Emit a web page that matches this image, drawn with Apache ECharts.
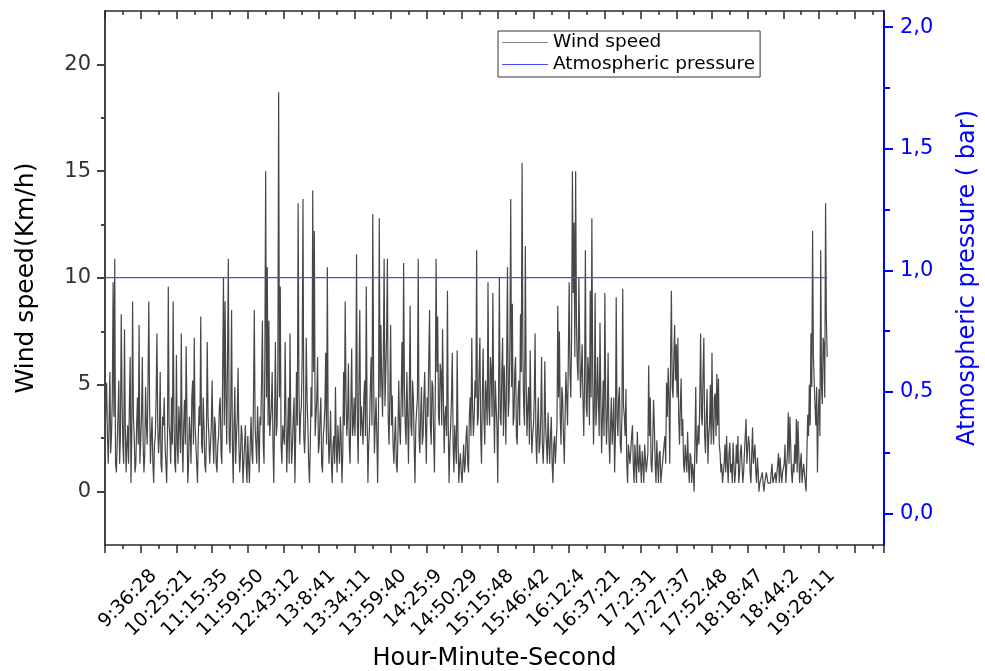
<!DOCTYPE html>
<html>
<head>
<meta charset="utf-8">
<script src="https://cdn.jsdelivr.net/npm/echarts@6.0.0/dist/echarts.min.js"></script>
<style>
html,body{margin:0;padding:0;background:#fff;}
#chart{width:985px;height:671px;}
</style>
</head>
<body>
<div id="chart"></div>
<script>
// x tick labels (one per major tick, starting at the second major tick)
const timeLabels = ['9:36:28','10:25:21','11:15:35','11:59:50','12:43:12','13:8:41','13:34:11','13:59:40','14:25:9','14:50:29',
  '15:15:48','15:46:42','16:12:4','16:37:21','17:2:31','17:27:37','17:52:48','18:18:47','18:44:2','19:28:11'];
const samplesPerTick = 44;   // samples between two major x ticks
const xMaxSample = 960;
const labelShift = 16;       // labels sit a little right of their tick, as in the original

// wind speed (Km/h), one row per major x interval
const windSpeed = [
  2.2,4.0,5.1,2.6,1.3,3.1,5.6,1.8,2.6,4.4,9.8,3.5,10.9,1.3,0.9,2.2,3.5,5.2,1.3,2.6,8.3,4.4,2.2,1.3,7.6,3.1,0.9,2.2,3.1,1.3,4.0,6.3,0.4,2.6,8.9,3.5,2.6,0.9,1.3,3.1,4.4,2.2,7.8,1.3,
  1.3,3.5,6.3,2.2,0.9,1.8,4.9,3.1,2.2,5.2,8.9,4.0,1.3,2.6,3.5,1.3,0.4,2.2,2.6,4.4,7.4,3.1,1.8,2.6,5.6,1.3,0.9,3.5,3.1,4.4,2.2,1.3,0.4,2.6,9.6,3.1,2.6,1.3,4.4,2.2,8.9,3.5,1.3,0.9,
  6.4,2.2,1.3,4.0,3.1,1.8,7.4,2.6,0.9,3.1,4.3,2.2,6.8,3.5,0.4,1.3,3.5,2.6,1.3,4.4,5.2,2.2,7.2,3.1,2.2,1.3,0.4,2.6,4.0,3.1,8.2,2.2,1.8,4.4,3.1,1.3,0.9,2.6,7.0,3.5,2.6,1.3,1.3,3.1,
  5.2,2.6,1.3,3.5,3.1,1.3,0.9,2.2,2.6,4.0,4.4,1.8,1.3,5.6,10.0,3.1,8.9,4.4,2.2,6.3,10.9,2.6,1.8,4.0,8.5,2.2,0.4,3.1,4.9,1.3,2.6,3.5,5.8,2.2,0.9,1.8,3.1,2.6,0.4,1.3,2.2,3.1,1.3,0.4,
  2.6,1.3,0.4,2.2,3.5,1.8,1.3,4.4,8.5,3.1,2.2,1.3,4.0,2.6,0.9,3.5,3.1,5.2,8.0,2.2,1.3,6.3,15.0,4.4,10.5,3.1,8.0,2.6,2.6,4.0,5.6,2.2,0.4,3.5,7.0,2.6,3.1,5.6,18.7,4.4,9.6,2.2,1.3,3.1,
  3.1,2.2,7.0,3.5,0.9,2.6,4.4,1.3,7.4,3.1,1.3,2.2,3.5,4.4,0.4,2.6,5.6,3.1,13.5,4.9,2.2,3.5,4.0,6.3,13.7,2.6,1.8,3.1,7.2,4.4,3.1,1.3,0.4,2.2,4.9,3.5,14.1,5.6,12.2,2.6,2.6,4.4,6.3,1.8,
  2.2,3.5,4.4,1.3,0.9,2.6,3.1,4.0,6.5,2.2,10.5,3.1,1.3,2.2,3.8,1.3,0.4,2.2,2.6,1.3,4.9,2.2,0.9,3.1,2.2,1.3,3.5,2.6,0.4,1.8,5.6,3.1,8.9,4.4,2.6,3.5,6.0,2.2,1.3,4.0,6.7,2.6,3.1,4.4,
  2.6,4.4,11.1,3.1,1.3,5.2,8.5,2.6,4.0,3.1,2.2,4.4,5.2,2.6,9.6,3.5,0.4,2.2,3.1,4.9,6.3,3.1,13.0,5.6,1.8,3.1,4.4,2.6,0.4,3.5,12.8,4.4,7.8,5.2,3.5,6.3,10.9,4.0,5.6,7.2,10.9,3.5,2.2,4.4,
  7.8,3.1,4.5,2.2,1.3,2.6,3.5,1.3,0.9,2.6,5.2,3.1,2.2,4.4,7.0,3.5,10.7,4.9,3.1,2.2,5.6,3.5,1.3,4.4,8.7,3.1,2.6,5.2,4.4,2.2,0.4,3.1,3.1,4.4,10.9,2.6,1.8,3.5,4.9,2.2,2.6,4.4,5.6,3.1,
  1.3,4.4,3.5,6.3,8.5,3.1,2.2,5.2,4.9,2.6,0.9,4.4,10.9,5.6,8.2,3.5,3.1,6.0,5.6,3.1,7.6,4.4,1.8,3.5,4.0,2.6,9.4,3.1,0.4,2.2,3.1,4.4,6.5,2.2,0.9,3.1,2.2,1.3,6.6,2.6,0.4,1.3,1.8,0.9,
  0.4,1.3,2.2,0.9,1.3,2.6,3.1,1.3,0.9,3.5,4.4,2.6,7.2,4.0,2.6,3.5,5.2,4.4,11.3,3.1,3.5,5.6,7.2,2.6,1.3,4.4,6.7,3.5,2.2,5.2,4.4,3.1,9.8,4.0,3.1,6.3,5.6,3.5,9.3,4.4,1.8,5.2,4.0,3.1,
  0.4,4.4,10.0,3.5,3.1,5.6,7.2,2.6,5.9,4.0,2.2,6.3,10.5,3.5,4.4,7.0,13.7,4.9,8.8,3.1,3.5,5.6,6.3,2.6,2.2,4.4,5.2,3.1,8.3,5.6,15.4,6.3,4.0,3.1,11.5,5.2,2.6,4.0,4.9,2.2,6.6,3.5,1.8,2.6,
  3.1,4.4,7.4,2.6,1.3,3.1,4.4,1.8,2.2,3.5,6.3,2.2,1.3,2.6,6.1,3.1,2.2,1.3,3.7,2.2,1.3,2.6,3.5,1.3,0.4,2.2,2.6,1.3,1.3,3.1,8.7,4.4,7.5,3.5,2.2,4.9,4.4,2.6,1.3,3.5,5.6,4.4,3.1,6.3,
  9.8,5.6,4.4,7.2,15.0,9.3,12.6,6.3,15.0,7.8,6.0,5.2,10.0,6.9,4.4,5.6,6.9,4.4,2.6,5.2,11.3,4.0,3.5,6.3,5.6,3.1,9.4,4.4,12.8,5.6,2.2,4.0,9.3,3.1,4.0,6.3,6.3,2.6,7.9,4.4,1.8,3.5,5.2,2.6,
  9.3,4.4,2.2,3.5,6.5,2.6,1.3,3.1,4.4,2.2,3.1,4.4,0.9,2.6,9.1,3.5,2.6,4.4,4.9,2.2,1.8,3.5,9.5,4.0,3.5,2.6,4.8,1.3,0.4,2.2,2.2,1.3,1.3,2.6,3.1,1.3,0.4,2.2,2.2,0.4,2.8,1.3,0.9,2.2,
  1.3,0.4,1.9,1.3,0.4,2.2,2.2,0.9,0.9,1.8,5.9,2.6,4.4,1.3,0.9,2.2,4.3,3.1,1.3,0.4,2.4,1.3,0.4,1.8,1.9,0.4,0.9,1.3,1.3,2.2,2.6,1.3,5.1,3.5,5.8,4.4,1.3,6.3,9.4,4.9,4.4,6.3,7.8,5.2,
  6.9,4.4,7.2,3.5,2.2,4.0,5.3,2.6,3.4,1.3,0.9,2.2,2.2,0.9,2.8,1.3,0.4,1.8,1.6,0.4,1.3,0.9,0.0,2.2,4.9,1.3,1.3,3.1,2.2,4.4,7.4,3.5,3.1,5.6,7.2,2.6,1.8,3.5,4.8,1.3,2.6,3.1,5.0,2.2,
  6.5,3.1,2.2,4.4,4.6,2.6,5.5,3.1,5.3,2.2,1.8,0.9,1.3,0.4,0.4,1.3,2.2,0.9,2.6,1.3,0.4,1.8,2.3,0.9,1.3,0.4,2.3,1.3,0.4,0.9,2.2,1.3,2.6,0.4,0.9,1.8,2.2,1.3,0.4,0.9,1.8,2.6,3.4,1.3,
  1.3,2.6,2.2,0.9,0.4,1.8,3.0,1.3,1.3,2.2,0.9,0.4,1.6,0.9,0.0,0.4,0.4,0.4,0.9,0.4,0.0,0.4,0.4,0.9,0.9,0.4,0.4,0.4,0.4,0.9,1.3,0.4,0.4,0.4,0.9,0.4,0.4,1.3,1.8,0.4,1.6,0.9,0.4,0.9,
  0.9,1.3,2.2,0.4,0.4,1.8,3.7,1.3,3.5,2.2,0.9,0.4,1.3,0.9,2.2,1.3,3.4,0.9,3.3,1.8,0.4,1.3,1.8,0.4,0.9,1.3,1.3,0.4,0.0,1.8,3.6,2.6,5.0,3.1,7.4,4.9,12.2,6.3,6.3,4.0,3.1,4.9,0.9,3.5,
  4.8,2.6,11.3,4.9,4.1,7.2,6.9,4.4,13.5,8.0,6.3
];

// atmospheric pressure (bar): constant over the whole record
const pressureIndex = [0, 890];
const pressureValues = [0.97, 0.97];

// axis tick values
const windTicks = [0, 5, 10, 15, 20];
const windMinorTicks = [2.5, 7.5, 12.5, 17.5];
const pressureTicks = [0, 0.5, 1.0, 1.5, 2.0];
const pressureMinorTicks = [0.25, 0.75, 1.25, 1.75];

const FONT = 'DejaVu Sans';
const DARK = '#2a2a2a';
const BLUE = '#0000ff';
const PLINE = '#4a4aff';
const W_MIN = -2.5, W_MAX = 22.5;
const P_MIN = -0.129, P_MAX = 2.066;

const chart = echarts.init(document.getElementById('chart'), null, {renderer: 'canvas'});

const labelValues = timeLabels.map(function (t, i) { return (i + 1) * samplesPerTick + labelShift; });

const xBase = {
  type: 'value', min: 0, max: xMaxSample, interval: samplesPerTick,
  splitLine: {show: false}, minorSplitLine: {show: false}
};

const option = {
  animation: false,
  backgroundColor: '#ffffff',
  textStyle: {fontFamily: FONT},
  grid: {left: 105, right: 101, top: 11, bottom: 126, containLabel: false, outerBoundsMode: 'none'},
  legend: {
    left: 498, top: 31, orient: 'vertical', icon: 'rect',
    itemWidth: 46, itemHeight: 1.2, itemGap: 3,
    padding: [2, 5, 3, 4],
    borderColor: '#333', borderWidth: 1,
    textStyle: {fontFamily: FONT, fontSize: 18.5, color: '#000'},
    data: [
      {name: 'Wind speed', itemStyle: {color: '#8a8a8a'}},
      {name: 'Atmospheric pressure', itemStyle: {color: PLINE}}
    ]
  },
  xAxis: [
    Object.assign({}, xBase, {
      position: 'bottom',
      axisLine: {show: true, onZero: false, lineStyle: {color: DARK, width: 1.5}},
      axisTick: {show: true, inside: false, length: 8, lineStyle: {color: DARK, width: 1.5}},
      minorTick: {show: true, splitNumber: 2, length: 4, lineStyle: {color: DARK, width: 1.5}},
      axisLabel: {
        show: true, rotate: 45, margin: 28, customValues: labelValues,
        fontSize: 19, color: '#000', fontFamily: FONT,
        formatter: function (v) {
          const k = Math.round((v - labelShift) / samplesPerTick);
          return (k >= 1 && k <= timeLabels.length) ? timeLabels[k - 1] : '';
        }
      },
      name: 'Hour-Minute-Second', nameLocation: 'middle', nameGap: 102,
      nameTextStyle: {fontFamily: FONT, fontSize: 24, color: '#000'}
    }),
    Object.assign({}, xBase, {
      position: 'top',
      axisLine: {show: true, onZero: false, lineStyle: {color: DARK, width: 1.5}},
      axisTick: {show: true, inside: true, length: 8, lineStyle: {color: DARK, width: 1.5}},
      minorTick: {show: true, splitNumber: 2, length: 4, lineStyle: {color: DARK, width: 1.5}},
      axisLabel: {show: false}
    })
  ],
  yAxis: [
    {
      type: 'value', position: 'left', min: W_MIN, max: W_MAX,
      splitLine: {show: false},
      axisLine: {show: true, onZero: false, lineStyle: {color: '#444', width: 2}},
      axisTick: {show: true, length: 8, customValues: windTicks, lineStyle: {color: '#444', width: 2}},
      axisLabel: {show: true, customValues: windTicks, margin: 14, fontSize: 21, color: '#333', fontFamily: FONT},
      name: 'Wind speed(Km/h)', nameLocation: 'middle', nameRotate: 90, nameGap: 66,
      nameTextStyle: {fontFamily: FONT, fontSize: 25, color: '#000'}
    },
    {
      type: 'value', position: 'right', min: P_MIN, max: P_MAX,
      splitLine: {show: false},
      axisLine: {show: true, onZero: false, lineStyle: {color: BLUE, width: 2}},
      axisTick: {show: true, length: 9, customValues: pressureTicks, lineStyle: {color: BLUE, width: 2}},
      axisLabel: {
        show: true, customValues: pressureTicks, margin: 16, fontSize: 21, color: BLUE, fontFamily: FONT,
        formatter: function (v) { return v.toFixed(1).replace('.', ','); }
      },
      name: 'Atmospheric pressure ( bar)', nameLocation: 'middle', nameRotate: 90, nameGap: 72,
      nameTextStyle: {fontFamily: FONT, fontSize: 24, color: BLUE}
    },
    {
      type: 'value', position: 'left', offset: 0, min: W_MIN, max: W_MAX,
      splitLine: {show: false}, axisLine: {show: false, onZero: false},
      axisTick: {show: true, length: 4, customValues: windMinorTicks, lineStyle: {color: '#444', width: 2}},
      axisLabel: {show: false}
    },
    {
      type: 'value', position: 'right', offset: 0, min: P_MIN, max: P_MAX,
      splitLine: {show: false}, axisLine: {show: false, onZero: false},
      axisTick: {show: true, length: 6, customValues: pressureMinorTicks, lineStyle: {color: BLUE, width: 2}},
      axisLabel: {show: false}
    }
  ],
  series: [
    {
      name: 'Wind speed', type: 'line', xAxisIndex: 0, yAxisIndex: 0,
      data: windSpeed.map(function (v, i) { return [i, v]; }),
      showSymbol: false, symbol: 'none',
      lineStyle: {color: '#474747', width: 1.2},
      itemStyle: {color: '#474747'},
      z: 2
    },
    {
      name: 'Atmospheric pressure', type: 'line', xAxisIndex: 0, yAxisIndex: 1,
      data: pressureIndex.map(function (x, i) { return [x, pressureValues[i]]; }),
      showSymbol: false, symbol: 'none',
      lineStyle: {color: PLINE, width: 1.2, opacity: 1},
      itemStyle: {color: PLINE},
      z: 5
    }
  ]
};
chart.setOption(option);
</script>
</body>
</html>
